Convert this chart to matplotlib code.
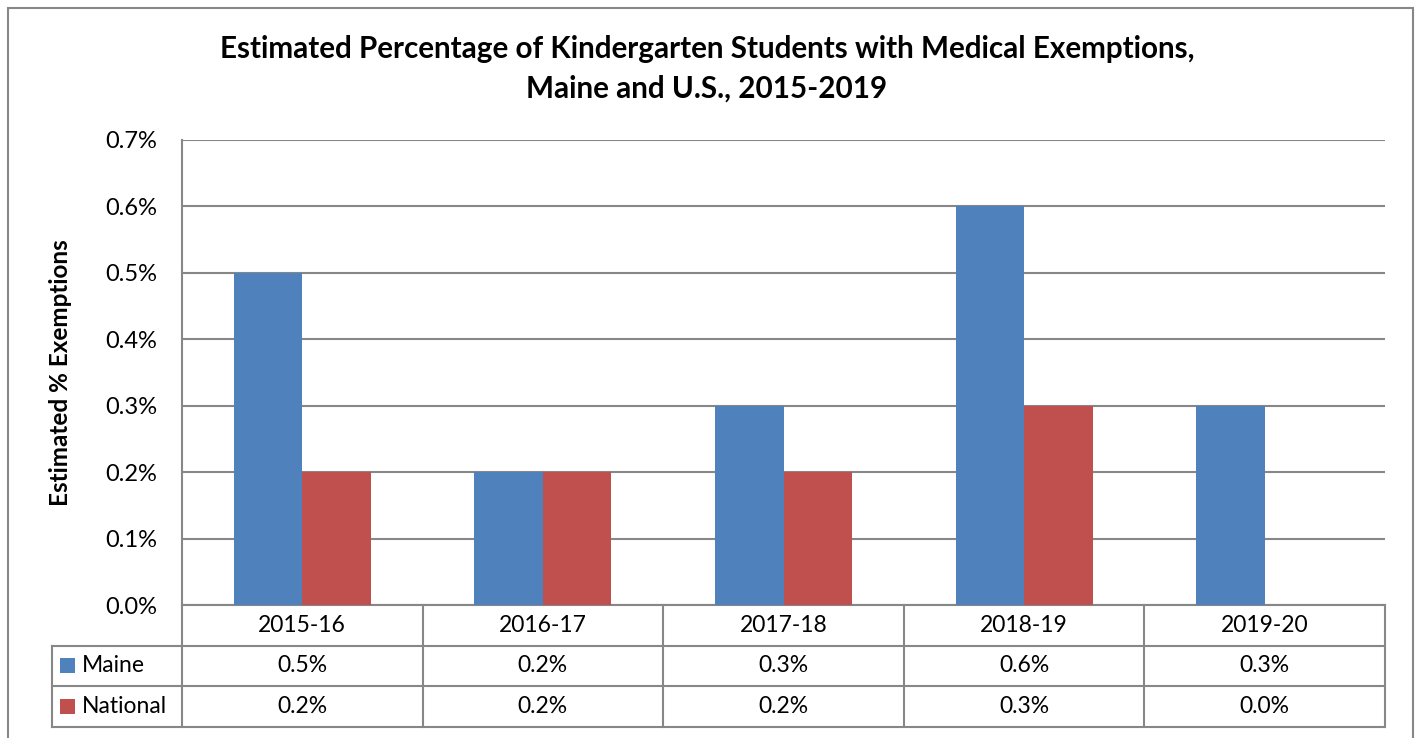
import matplotlib.pyplot as plt
import matplotlib.transforms as mtransforms
from matplotlib.patches import Rectangle
import numpy as np

# data (percent)
years = ['2015-16', '2016-17', '2017-18', '2018-19', '2019-20']
maine = [0.5, 0.2, 0.3, 0.6, 0.3]
national = [0.2, 0.2, 0.2, 0.3, 0.0]
series_names = ['Maine', 'National']
series_colors = ['#4F81BD', '#C0504D']
yticks = [0.0, 0.1, 0.2, 0.3, 0.4, 0.5, 0.6, 0.7]

plt.rcParams['font.family'] = ['Lato', 'DejaVu Sans']
W, H = 1416, 738
fig = plt.figure(figsize=(W / 100, H / 100), dpi=100)
gray = '#878787'
fs = 16.5

# outer chart border
fig.patches.append(Rectangle((8 / W, -0.01), 1405 / W, (H - 8) / H + 0.01,
                             transform=fig.transFigure, fill=False,
                             edgecolor=gray, linewidth=1.5))

left, right, top, bottom = 182, 1385, 140, 605
ax = fig.add_axes([left / W, 1 - bottom / H, (right - left) / W, (bottom - top) / H])

x = np.arange(len(years))
bw = 0.285
ax.bar(x - bw / 2, maine, bw, color=series_colors[0], zorder=3)
ax.bar(x + bw / 2, national, bw, color=series_colors[1], zorder=3)

ax.set_xlim(-0.5, len(years) - 0.5)
ax.set_ylim(0, 0.7)
ax.set_yticks(yticks)
ax.set_yticklabels(['%.1f%%' % v for v in yticks], fontsize=fs + 0.5)
ax.tick_params(axis='y', length=0, pad=18)
ax.set_xticks([])
ax.grid(axis='y', color=gray, linewidth=1.5, zorder=0)
for s in ['top', 'right']:
    ax.spines[s].set_visible(False)
for s in ['left', 'bottom']:
    ax.spines[s].set_color(gray)
    ax.spines[s].set_linewidth(1.5)

ax.set_ylabel('Estimated % Exemptions', fontsize=17.5, fontweight='bold')
ax.yaxis.set_label_coords(-110 / (right - left), 0.5)

fig.text(707 / W, 1 - 69 / H,
         'Estimated Percentage of Kindergarten Students with Medical Exemptions,\nMaine and U.S., 2015-2019',
         ha='center', va='center', fontsize=21.3, fontweight='bold', linespacing=1.5)

# data table below the axes
trans = mtransforms.blended_transform_factory(ax.transData, ax.transAxes)
ph = bottom - top
rowh = 40.5 / ph
unit = (right - left) / len(years)
lx = -0.5 - (left - 52) / unit
kw = dict(color=gray, linewidth=1.5, transform=trans, clip_on=False)

for i in range(len(years) + 1):
    ax.plot([i - 0.5, i - 0.5], [0, -3 * rowh], **kw)
for r in range(1, 4):
    ax.plot([lx, len(years) - 0.5], [-r * rowh, -r * rowh], **kw)
ax.plot([lx, lx], [-rowh, -3 * rowh], **kw)

for i, yr in enumerate(years):
    ax.text(i, -0.5 * rowh, yr, ha='center', va='center', fontsize=fs, transform=trans)

rows = [maine, national]
for r, vals in enumerate(rows):
    yc = -(r + 1.5) * rowh
    for i, v in enumerate(vals):
        ax.text(i, yc, '%.1f%%' % v, ha='center', va='center', fontsize=fs, transform=trans)
    sx = lx + 8 / unit
    ax.add_patch(Rectangle((sx, yc - 7.5 / ph), 15 / unit, 15 / ph, facecolor=series_colors[r],
                           edgecolor='none', transform=trans, clip_on=False))
    ax.text(sx + 22 / unit, yc, series_names[r], ha='left', va='center', fontsize=fs,
            transform=trans)

fig.savefig('out.png', dpi=100)
